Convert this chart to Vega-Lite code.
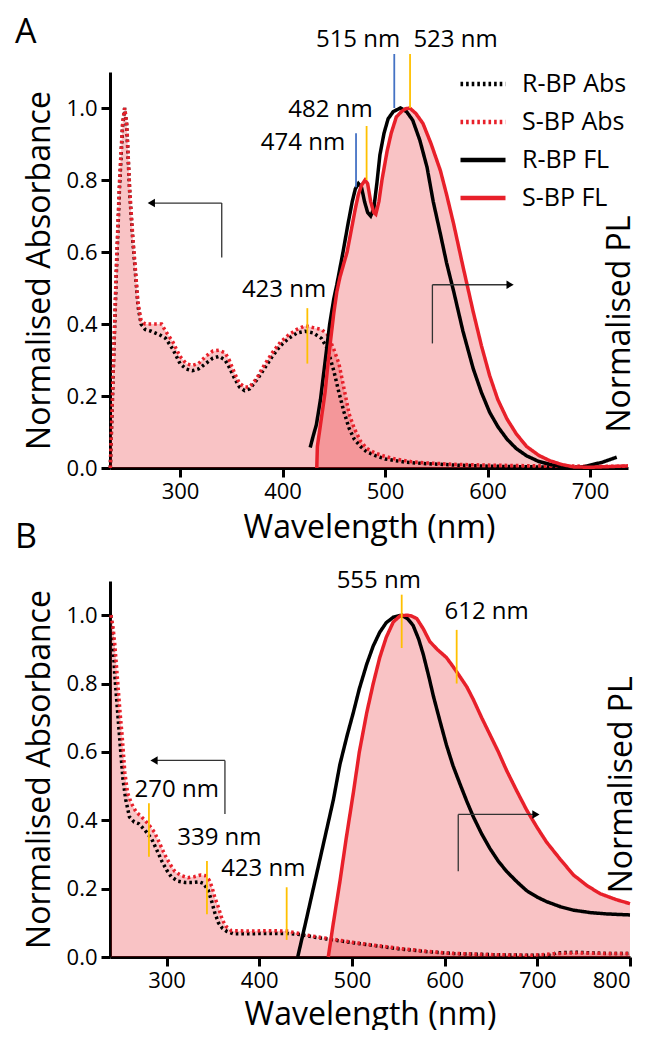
{
  "$schema": "https://vega.github.io/schema/vega-lite/v6.json",
  "padding": {"left": 15, "top": 16, "right": 12, "bottom": 0},
  "spacing": -23,
  "config": {
    "view": {"stroke": null},
    "font": "Open Sans",
    "axis": {"domainColor": "#000", "domainWidth": 3, "tickColor": "#000", "tickWidth": 3, "tickSize": 9, "labelFont": "Open Sans", "labelFontSize": 22, "labelColor": "#000", "titleFont": "Open Sans", "titleFontSize": 32, "titleFontWeight": "normal", "titleColor": "#000", "grid": false, "labelPadding": 4, "titlePadding": 10},
    "text": {"font": "Open Sans", "fontSize": 24, "color": "#000"},
    "title": {"font": "Open Sans", "fontSize": 34, "fontWeight": "normal", "color": "#000", "anchor": "start", "frame": "group"}
  },
  "resolve": {"scale": {"x": "independent", "y": "independent", "color": "independent", "strokeDash": "independent", "shape": "independent"}, "legend": {"color": "independent", "strokeDash": "independent", "shape": "independent"}},
  "datasets": {
    "spec": [
      {"panel": "A", "series": "R-BP Abs", "wl": 232, "v": 0},
      {"panel": "A", "series": "R-BP Abs", "wl": 235, "v": 0.28},
      {"panel": "A", "series": "R-BP Abs", "wl": 238, "v": 0.55},
      {"panel": "A", "series": "R-BP Abs", "wl": 241, "v": 0.78},
      {"panel": "A", "series": "R-BP Abs", "wl": 244, "v": 0.95},
      {"panel": "A", "series": "R-BP Abs", "wl": 246, "v": 1.0},
      {"panel": "A", "series": "R-BP Abs", "wl": 248, "v": 0.95},
      {"panel": "A", "series": "R-BP Abs", "wl": 251, "v": 0.76},
      {"panel": "A", "series": "R-BP Abs", "wl": 254, "v": 0.63},
      {"panel": "A", "series": "R-BP Abs", "wl": 256, "v": 0.56},
      {"panel": "A", "series": "R-BP Abs", "wl": 259, "v": 0.45},
      {"panel": "A", "series": "R-BP Abs", "wl": 262, "v": 0.4},
      {"panel": "A", "series": "R-BP Abs", "wl": 266, "v": 0.385},
      {"panel": "A", "series": "R-BP Abs", "wl": 272, "v": 0.38},
      {"panel": "A", "series": "R-BP Abs", "wl": 280, "v": 0.37},
      {"panel": "A", "series": "R-BP Abs", "wl": 286, "v": 0.36},
      {"panel": "A", "series": "R-BP Abs", "wl": 293, "v": 0.33},
      {"panel": "A", "series": "R-BP Abs", "wl": 300, "v": 0.29},
      {"panel": "A", "series": "R-BP Abs", "wl": 306, "v": 0.275},
      {"panel": "A", "series": "R-BP Abs", "wl": 312, "v": 0.27},
      {"panel": "A", "series": "R-BP Abs", "wl": 318, "v": 0.275},
      {"panel": "A", "series": "R-BP Abs", "wl": 325, "v": 0.29},
      {"panel": "A", "series": "R-BP Abs", "wl": 332, "v": 0.305},
      {"panel": "A", "series": "R-BP Abs", "wl": 338, "v": 0.31},
      {"panel": "A", "series": "R-BP Abs", "wl": 344, "v": 0.3},
      {"panel": "A", "series": "R-BP Abs", "wl": 348, "v": 0.28},
      {"panel": "A", "series": "R-BP Abs", "wl": 353, "v": 0.25},
      {"panel": "A", "series": "R-BP Abs", "wl": 358, "v": 0.225},
      {"panel": "A", "series": "R-BP Abs", "wl": 363, "v": 0.215},
      {"panel": "A", "series": "R-BP Abs", "wl": 368, "v": 0.22},
      {"panel": "A", "series": "R-BP Abs", "wl": 375, "v": 0.245},
      {"panel": "A", "series": "R-BP Abs", "wl": 382, "v": 0.275},
      {"panel": "A", "series": "R-BP Abs", "wl": 390, "v": 0.31},
      {"panel": "A", "series": "R-BP Abs", "wl": 398, "v": 0.34},
      {"panel": "A", "series": "R-BP Abs", "wl": 406, "v": 0.36},
      {"panel": "A", "series": "R-BP Abs", "wl": 414, "v": 0.375},
      {"panel": "A", "series": "R-BP Abs", "wl": 422, "v": 0.38},
      {"panel": "A", "series": "R-BP Abs", "wl": 430, "v": 0.375},
      {"panel": "A", "series": "R-BP Abs", "wl": 438, "v": 0.36},
      {"panel": "A", "series": "R-BP Abs", "wl": 444, "v": 0.33},
      {"panel": "A", "series": "R-BP Abs", "wl": 450, "v": 0.27},
      {"panel": "A", "series": "R-BP Abs", "wl": 455, "v": 0.21},
      {"panel": "A", "series": "R-BP Abs", "wl": 460, "v": 0.155},
      {"panel": "A", "series": "R-BP Abs", "wl": 465, "v": 0.11},
      {"panel": "A", "series": "R-BP Abs", "wl": 470, "v": 0.08},
      {"panel": "A", "series": "R-BP Abs", "wl": 476, "v": 0.06},
      {"panel": "A", "series": "R-BP Abs", "wl": 482, "v": 0.045},
      {"panel": "A", "series": "R-BP Abs", "wl": 490, "v": 0.035},
      {"panel": "A", "series": "R-BP Abs", "wl": 500, "v": 0.025},
      {"panel": "A", "series": "R-BP Abs", "wl": 520, "v": 0.016},
      {"panel": "A", "series": "R-BP Abs", "wl": 540, "v": 0.012},
      {"panel": "A", "series": "R-BP Abs", "wl": 570, "v": 0.008},
      {"panel": "A", "series": "R-BP Abs", "wl": 600, "v": 0.005},
      {"panel": "A", "series": "R-BP Abs", "wl": 650, "v": 0.003},
      {"panel": "A", "series": "R-BP Abs", "wl": 700, "v": 0.003},
      {"panel": "A", "series": "R-BP Abs", "wl": 737, "v": 0.003},

      {"panel": "A", "series": "S-BP Abs", "wl": 232, "v": 0},
      {"panel": "A", "series": "S-BP Abs", "wl": 235, "v": 0.29},
      {"panel": "A", "series": "S-BP Abs", "wl": 238, "v": 0.57},
      {"panel": "A", "series": "S-BP Abs", "wl": 241, "v": 0.8},
      {"panel": "A", "series": "S-BP Abs", "wl": 244, "v": 0.96},
      {"panel": "A", "series": "S-BP Abs", "wl": 246, "v": 1.0},
      {"panel": "A", "series": "S-BP Abs", "wl": 248, "v": 0.96},
      {"panel": "A", "series": "S-BP Abs", "wl": 251, "v": 0.77},
      {"panel": "A", "series": "S-BP Abs", "wl": 254, "v": 0.64},
      {"panel": "A", "series": "S-BP Abs", "wl": 256, "v": 0.57},
      {"panel": "A", "series": "S-BP Abs", "wl": 259, "v": 0.46},
      {"panel": "A", "series": "S-BP Abs", "wl": 262, "v": 0.41},
      {"panel": "A", "series": "S-BP Abs", "wl": 266, "v": 0.4},
      {"panel": "A", "series": "S-BP Abs", "wl": 272, "v": 0.4},
      {"panel": "A", "series": "S-BP Abs", "wl": 278, "v": 0.4},
      {"panel": "A", "series": "S-BP Abs", "wl": 282, "v": 0.4},
      {"panel": "A", "series": "S-BP Abs", "wl": 286, "v": 0.38},
      {"panel": "A", "series": "S-BP Abs", "wl": 293, "v": 0.35},
      {"panel": "A", "series": "S-BP Abs", "wl": 300, "v": 0.31},
      {"panel": "A", "series": "S-BP Abs", "wl": 306, "v": 0.29},
      {"panel": "A", "series": "S-BP Abs", "wl": 312, "v": 0.285},
      {"panel": "A", "series": "S-BP Abs", "wl": 318, "v": 0.29},
      {"panel": "A", "series": "S-BP Abs", "wl": 325, "v": 0.31},
      {"panel": "A", "series": "S-BP Abs", "wl": 332, "v": 0.325},
      {"panel": "A", "series": "S-BP Abs", "wl": 338, "v": 0.327},
      {"panel": "A", "series": "S-BP Abs", "wl": 344, "v": 0.32},
      {"panel": "A", "series": "S-BP Abs", "wl": 348, "v": 0.3},
      {"panel": "A", "series": "S-BP Abs", "wl": 353, "v": 0.265},
      {"panel": "A", "series": "S-BP Abs", "wl": 358, "v": 0.235},
      {"panel": "A", "series": "S-BP Abs", "wl": 363, "v": 0.225},
      {"panel": "A", "series": "S-BP Abs", "wl": 368, "v": 0.225},
      {"panel": "A", "series": "S-BP Abs", "wl": 375, "v": 0.25},
      {"panel": "A", "series": "S-BP Abs", "wl": 382, "v": 0.285},
      {"panel": "A", "series": "S-BP Abs", "wl": 390, "v": 0.32},
      {"panel": "A", "series": "S-BP Abs", "wl": 398, "v": 0.35},
      {"panel": "A", "series": "S-BP Abs", "wl": 406, "v": 0.37},
      {"panel": "A", "series": "S-BP Abs", "wl": 414, "v": 0.385},
      {"panel": "A", "series": "S-BP Abs", "wl": 422, "v": 0.395},
      {"panel": "A", "series": "S-BP Abs", "wl": 430, "v": 0.39},
      {"panel": "A", "series": "S-BP Abs", "wl": 438, "v": 0.385},
      {"panel": "A", "series": "S-BP Abs", "wl": 444, "v": 0.37},
      {"panel": "A", "series": "S-BP Abs", "wl": 450, "v": 0.33},
      {"panel": "A", "series": "S-BP Abs", "wl": 455, "v": 0.29},
      {"panel": "A", "series": "S-BP Abs", "wl": 460, "v": 0.22},
      {"panel": "A", "series": "S-BP Abs", "wl": 465, "v": 0.15},
      {"panel": "A", "series": "S-BP Abs", "wl": 470, "v": 0.11},
      {"panel": "A", "series": "S-BP Abs", "wl": 476, "v": 0.075},
      {"panel": "A", "series": "S-BP Abs", "wl": 482, "v": 0.055},
      {"panel": "A", "series": "S-BP Abs", "wl": 490, "v": 0.042},
      {"panel": "A", "series": "S-BP Abs", "wl": 498, "v": 0.034},
      {"panel": "A", "series": "S-BP Abs", "wl": 510, "v": 0.025},
      {"panel": "A", "series": "S-BP Abs", "wl": 525, "v": 0.018},
      {"panel": "A", "series": "S-BP Abs", "wl": 540, "v": 0.014},
      {"panel": "A", "series": "S-BP Abs", "wl": 570, "v": 0.01},
      {"panel": "A", "series": "S-BP Abs", "wl": 600, "v": 0.008},
      {"panel": "A", "series": "S-BP Abs", "wl": 650, "v": 0.006},
      {"panel": "A", "series": "S-BP Abs", "wl": 700, "v": 0.005},
      {"panel": "A", "series": "S-BP Abs", "wl": 737, "v": 0.005},

      {"panel": "A", "series": "R-BP FL", "wl": 427, "v": 0.057},
      {"panel": "A", "series": "R-BP FL", "wl": 430, "v": 0.09},
      {"panel": "A", "series": "R-BP FL", "wl": 433, "v": 0.12},
      {"panel": "A", "series": "R-BP FL", "wl": 437, "v": 0.19},
      {"panel": "A", "series": "R-BP FL", "wl": 440, "v": 0.26},
      {"panel": "A", "series": "R-BP FL", "wl": 443, "v": 0.33},
      {"panel": "A", "series": "R-BP FL", "wl": 446, "v": 0.4},
      {"panel": "A", "series": "R-BP FL", "wl": 450, "v": 0.47},
      {"panel": "A", "series": "R-BP FL", "wl": 453, "v": 0.51},
      {"panel": "A", "series": "R-BP FL", "wl": 459, "v": 0.6},
      {"panel": "A", "series": "R-BP FL", "wl": 464, "v": 0.68},
      {"panel": "A", "series": "R-BP FL", "wl": 468, "v": 0.74},
      {"panel": "A", "series": "R-BP FL", "wl": 471, "v": 0.775},
      {"panel": "A", "series": "R-BP FL", "wl": 474, "v": 0.79},
      {"panel": "A", "series": "R-BP FL", "wl": 477, "v": 0.78},
      {"panel": "A", "series": "R-BP FL", "wl": 480, "v": 0.74},
      {"panel": "A", "series": "R-BP FL", "wl": 483, "v": 0.71},
      {"panel": "A", "series": "R-BP FL", "wl": 486, "v": 0.7},
      {"panel": "A", "series": "R-BP FL", "wl": 489, "v": 0.72},
      {"panel": "A", "series": "R-BP FL", "wl": 492, "v": 0.79},
      {"panel": "A", "series": "R-BP FL", "wl": 495, "v": 0.87},
      {"panel": "A", "series": "R-BP FL", "wl": 499, "v": 0.93},
      {"panel": "A", "series": "R-BP FL", "wl": 503, "v": 0.97},
      {"panel": "A", "series": "R-BP FL", "wl": 508, "v": 0.99},
      {"panel": "A", "series": "R-BP FL", "wl": 515, "v": 1.0},
      {"panel": "A", "series": "R-BP FL", "wl": 521, "v": 0.99},
      {"panel": "A", "series": "R-BP FL", "wl": 527, "v": 0.966},
      {"panel": "A", "series": "R-BP FL", "wl": 534, "v": 0.91},
      {"panel": "A", "series": "R-BP FL", "wl": 541, "v": 0.835},
      {"panel": "A", "series": "R-BP FL", "wl": 547, "v": 0.74},
      {"panel": "A", "series": "R-BP FL", "wl": 554, "v": 0.65},
      {"panel": "A", "series": "R-BP FL", "wl": 560, "v": 0.57},
      {"panel": "A", "series": "R-BP FL", "wl": 567, "v": 0.49},
      {"panel": "A", "series": "R-BP FL", "wl": 576, "v": 0.38},
      {"panel": "A", "series": "R-BP FL", "wl": 586, "v": 0.276},
      {"panel": "A", "series": "R-BP FL", "wl": 594, "v": 0.21},
      {"panel": "A", "series": "R-BP FL", "wl": 602, "v": 0.155},
      {"panel": "A", "series": "R-BP FL", "wl": 610, "v": 0.115},
      {"panel": "A", "series": "R-BP FL", "wl": 619, "v": 0.08},
      {"panel": "A", "series": "R-BP FL", "wl": 628, "v": 0.054},
      {"panel": "A", "series": "R-BP FL", "wl": 638, "v": 0.034},
      {"panel": "A", "series": "R-BP FL", "wl": 650, "v": 0.018},
      {"panel": "A", "series": "R-BP FL", "wl": 661, "v": 0.01},
      {"panel": "A", "series": "R-BP FL", "wl": 672, "v": 0.004},
      {"panel": "A", "series": "R-BP FL", "wl": 684, "v": 0.0},
      {"panel": "A", "series": "R-BP FL", "wl": 695, "v": 0.004},
      {"panel": "A", "series": "R-BP FL", "wl": 703, "v": 0.01},
      {"panel": "A", "series": "R-BP FL", "wl": 712, "v": 0.016},
      {"panel": "A", "series": "R-BP FL", "wl": 720, "v": 0.024},
      {"panel": "A", "series": "R-BP FL", "wl": 726, "v": 0.03},

      {"panel": "A", "series": "S-BP FL", "wl": 433.4, "v": 0},
      {"panel": "A", "series": "S-BP FL", "wl": 434, "v": 0.06},
      {"panel": "A", "series": "S-BP FL", "wl": 436, "v": 0.1},
      {"panel": "A", "series": "S-BP FL", "wl": 439, "v": 0.16},
      {"panel": "A", "series": "S-BP FL", "wl": 441.5, "v": 0.21},
      {"panel": "A", "series": "S-BP FL", "wl": 444, "v": 0.28},
      {"panel": "A", "series": "S-BP FL", "wl": 446.3, "v": 0.34},
      {"panel": "A", "series": "S-BP FL", "wl": 450, "v": 0.43},
      {"panel": "A", "series": "S-BP FL", "wl": 453, "v": 0.49},
      {"panel": "A", "series": "S-BP FL", "wl": 456, "v": 0.53},
      {"panel": "A", "series": "S-BP FL", "wl": 459, "v": 0.56},
      {"panel": "A", "series": "S-BP FL", "wl": 463, "v": 0.6},
      {"panel": "A", "series": "S-BP FL", "wl": 467, "v": 0.66},
      {"panel": "A", "series": "S-BP FL", "wl": 471, "v": 0.72},
      {"panel": "A", "series": "S-BP FL", "wl": 474, "v": 0.76},
      {"panel": "A", "series": "S-BP FL", "wl": 477, "v": 0.785},
      {"panel": "A", "series": "S-BP FL", "wl": 480.5, "v": 0.8},
      {"panel": "A", "series": "S-BP FL", "wl": 483, "v": 0.79},
      {"panel": "A", "series": "S-BP FL", "wl": 486, "v": 0.74},
      {"panel": "A", "series": "S-BP FL", "wl": 489, "v": 0.71},
      {"panel": "A", "series": "S-BP FL", "wl": 491, "v": 0.705},
      {"panel": "A", "series": "S-BP FL", "wl": 494, "v": 0.74},
      {"panel": "A", "series": "S-BP FL", "wl": 497, "v": 0.8},
      {"panel": "A", "series": "S-BP FL", "wl": 502, "v": 0.88},
      {"panel": "A", "series": "S-BP FL", "wl": 506, "v": 0.93},
      {"panel": "A", "series": "S-BP FL", "wl": 511, "v": 0.975},
      {"panel": "A", "series": "S-BP FL", "wl": 516, "v": 0.99},
      {"panel": "A", "series": "S-BP FL", "wl": 520, "v": 0.998},
      {"panel": "A", "series": "S-BP FL", "wl": 524, "v": 1.0},
      {"panel": "A", "series": "S-BP FL", "wl": 530, "v": 0.985},
      {"panel": "A", "series": "S-BP FL", "wl": 537, "v": 0.957},
      {"panel": "A", "series": "S-BP FL", "wl": 545, "v": 0.9},
      {"panel": "A", "series": "S-BP FL", "wl": 554, "v": 0.826},
      {"panel": "A", "series": "S-BP FL", "wl": 560, "v": 0.76},
      {"panel": "A", "series": "S-BP FL", "wl": 567, "v": 0.677},
      {"panel": "A", "series": "S-BP FL", "wl": 576, "v": 0.56},
      {"panel": "A", "series": "S-BP FL", "wl": 586, "v": 0.434},
      {"panel": "A", "series": "S-BP FL", "wl": 594, "v": 0.34},
      {"panel": "A", "series": "S-BP FL", "wl": 602, "v": 0.257},
      {"panel": "A", "series": "S-BP FL", "wl": 610, "v": 0.19},
      {"panel": "A", "series": "S-BP FL", "wl": 619, "v": 0.136},
      {"panel": "A", "series": "S-BP FL", "wl": 628, "v": 0.095},
      {"panel": "A", "series": "S-BP FL", "wl": 638, "v": 0.06},
      {"panel": "A", "series": "S-BP FL", "wl": 650, "v": 0.035},
      {"panel": "A", "series": "S-BP FL", "wl": 661, "v": 0.02},
      {"panel": "A", "series": "S-BP FL", "wl": 672, "v": 0.01},
      {"panel": "A", "series": "S-BP FL", "wl": 684, "v": 0.003},
      {"panel": "A", "series": "S-BP FL", "wl": 700, "v": 0.002},
      {"panel": "A", "series": "S-BP FL", "wl": 720, "v": 0.004},
      {"panel": "A", "series": "S-BP FL", "wl": 737, "v": 0.006},

      {"panel": "B", "series": "R-BP Abs", "wl": 240, "v": 1.0},
      {"panel": "B", "series": "R-BP Abs", "wl": 242, "v": 0.93},
      {"panel": "B", "series": "R-BP Abs", "wl": 244, "v": 0.83},
      {"panel": "B", "series": "R-BP Abs", "wl": 246, "v": 0.76},
      {"panel": "B", "series": "R-BP Abs", "wl": 248, "v": 0.69},
      {"panel": "B", "series": "R-BP Abs", "wl": 250, "v": 0.62},
      {"panel": "B", "series": "R-BP Abs", "wl": 253, "v": 0.52},
      {"panel": "B", "series": "R-BP Abs", "wl": 256, "v": 0.46},
      {"panel": "B", "series": "R-BP Abs", "wl": 260, "v": 0.41},
      {"panel": "B", "series": "R-BP Abs", "wl": 265, "v": 0.395},
      {"panel": "B", "series": "R-BP Abs", "wl": 270, "v": 0.39},
      {"panel": "B", "series": "R-BP Abs", "wl": 277, "v": 0.37},
      {"panel": "B", "series": "R-BP Abs", "wl": 284, "v": 0.345},
      {"panel": "B", "series": "R-BP Abs", "wl": 290, "v": 0.31},
      {"panel": "B", "series": "R-BP Abs", "wl": 295, "v": 0.28},
      {"panel": "B", "series": "R-BP Abs", "wl": 300, "v": 0.255},
      {"panel": "B", "series": "R-BP Abs", "wl": 305, "v": 0.235},
      {"panel": "B", "series": "R-BP Abs", "wl": 312, "v": 0.222},
      {"panel": "B", "series": "R-BP Abs", "wl": 320, "v": 0.218},
      {"panel": "B", "series": "R-BP Abs", "wl": 328, "v": 0.218},
      {"panel": "B", "series": "R-BP Abs", "wl": 335, "v": 0.22},
      {"panel": "B", "series": "R-BP Abs", "wl": 340, "v": 0.215},
      {"panel": "B", "series": "R-BP Abs", "wl": 345, "v": 0.195},
      {"panel": "B", "series": "R-BP Abs", "wl": 349, "v": 0.16},
      {"panel": "B", "series": "R-BP Abs", "wl": 352, "v": 0.13},
      {"panel": "B", "series": "R-BP Abs", "wl": 356, "v": 0.1},
      {"panel": "B", "series": "R-BP Abs", "wl": 360, "v": 0.085},
      {"panel": "B", "series": "R-BP Abs", "wl": 365, "v": 0.075},
      {"panel": "B", "series": "R-BP Abs", "wl": 372, "v": 0.068},
      {"panel": "B", "series": "R-BP Abs", "wl": 390, "v": 0.068},
      {"panel": "B", "series": "R-BP Abs", "wl": 410, "v": 0.069},
      {"panel": "B", "series": "R-BP Abs", "wl": 430, "v": 0.069},
      {"panel": "B", "series": "R-BP Abs", "wl": 444, "v": 0.066},
      {"panel": "B", "series": "R-BP Abs", "wl": 460, "v": 0.058},
      {"panel": "B", "series": "R-BP Abs", "wl": 480, "v": 0.05},
      {"panel": "B", "series": "R-BP Abs", "wl": 500, "v": 0.042},
      {"panel": "B", "series": "R-BP Abs", "wl": 520, "v": 0.035},
      {"panel": "B", "series": "R-BP Abs", "wl": 550, "v": 0.024},
      {"panel": "B", "series": "R-BP Abs", "wl": 580, "v": 0.016},
      {"panel": "B", "series": "R-BP Abs", "wl": 610, "v": 0.01},
      {"panel": "B", "series": "R-BP Abs", "wl": 650, "v": 0.007},
      {"panel": "B", "series": "R-BP Abs", "wl": 690, "v": 0.005},
      {"panel": "B", "series": "R-BP Abs", "wl": 715, "v": 0.005},
      {"panel": "B", "series": "R-BP Abs", "wl": 720, "v": 0.012},
      {"panel": "B", "series": "R-BP Abs", "wl": 740, "v": 0.014},
      {"panel": "B", "series": "R-BP Abs", "wl": 760, "v": 0.012},
      {"panel": "B", "series": "R-BP Abs", "wl": 780, "v": 0.01},
      {"panel": "B", "series": "R-BP Abs", "wl": 800, "v": 0.01},

      {"panel": "B", "series": "S-BP Abs", "wl": 240, "v": 1.0},
      {"panel": "B", "series": "S-BP Abs", "wl": 242, "v": 0.97},
      {"panel": "B", "series": "S-BP Abs", "wl": 244, "v": 0.92},
      {"panel": "B", "series": "S-BP Abs", "wl": 246, "v": 0.85},
      {"panel": "B", "series": "S-BP Abs", "wl": 248, "v": 0.78},
      {"panel": "B", "series": "S-BP Abs", "wl": 250, "v": 0.71},
      {"panel": "B", "series": "S-BP Abs", "wl": 252, "v": 0.65},
      {"panel": "B", "series": "S-BP Abs", "wl": 255, "v": 0.54},
      {"panel": "B", "series": "S-BP Abs", "wl": 258, "v": 0.48},
      {"panel": "B", "series": "S-BP Abs", "wl": 262, "v": 0.45},
      {"panel": "B", "series": "S-BP Abs", "wl": 267, "v": 0.425},
      {"panel": "B", "series": "S-BP Abs", "wl": 273, "v": 0.41},
      {"panel": "B", "series": "S-BP Abs", "wl": 280, "v": 0.39},
      {"panel": "B", "series": "S-BP Abs", "wl": 287, "v": 0.365},
      {"panel": "B", "series": "S-BP Abs", "wl": 293, "v": 0.33},
      {"panel": "B", "series": "S-BP Abs", "wl": 298, "v": 0.3},
      {"panel": "B", "series": "S-BP Abs", "wl": 303, "v": 0.275},
      {"panel": "B", "series": "S-BP Abs", "wl": 309, "v": 0.25},
      {"panel": "B", "series": "S-BP Abs", "wl": 316, "v": 0.238},
      {"panel": "B", "series": "S-BP Abs", "wl": 323, "v": 0.232},
      {"panel": "B", "series": "S-BP Abs", "wl": 330, "v": 0.235},
      {"panel": "B", "series": "S-BP Abs", "wl": 337, "v": 0.24},
      {"panel": "B", "series": "S-BP Abs", "wl": 342, "v": 0.238},
      {"panel": "B", "series": "S-BP Abs", "wl": 346, "v": 0.225},
      {"panel": "B", "series": "S-BP Abs", "wl": 349, "v": 0.205},
      {"panel": "B", "series": "S-BP Abs", "wl": 352, "v": 0.175},
      {"panel": "B", "series": "S-BP Abs", "wl": 356, "v": 0.145},
      {"panel": "B", "series": "S-BP Abs", "wl": 360, "v": 0.11},
      {"panel": "B", "series": "S-BP Abs", "wl": 364, "v": 0.09},
      {"panel": "B", "series": "S-BP Abs", "wl": 370, "v": 0.077},
      {"panel": "B", "series": "S-BP Abs", "wl": 390, "v": 0.076},
      {"panel": "B", "series": "S-BP Abs", "wl": 410, "v": 0.077},
      {"panel": "B", "series": "S-BP Abs", "wl": 430, "v": 0.076},
      {"panel": "B", "series": "S-BP Abs", "wl": 444, "v": 0.068},
      {"panel": "B", "series": "S-BP Abs", "wl": 460, "v": 0.06},
      {"panel": "B", "series": "S-BP Abs", "wl": 480, "v": 0.052},
      {"panel": "B", "series": "S-BP Abs", "wl": 498, "v": 0.044},
      {"panel": "B", "series": "S-BP Abs", "wl": 520, "v": 0.036},
      {"panel": "B", "series": "S-BP Abs", "wl": 552, "v": 0.025},
      {"panel": "B", "series": "S-BP Abs", "wl": 580, "v": 0.017},
      {"panel": "B", "series": "S-BP Abs", "wl": 606, "v": 0.011},
      {"panel": "B", "series": "S-BP Abs", "wl": 650, "v": 0.007},
      {"panel": "B", "series": "S-BP Abs", "wl": 695, "v": 0.005},
      {"panel": "B", "series": "S-BP Abs", "wl": 720, "v": 0.01},
      {"panel": "B", "series": "S-BP Abs", "wl": 740, "v": 0.012},
      {"panel": "B", "series": "S-BP Abs", "wl": 760, "v": 0.011},
      {"panel": "B", "series": "S-BP Abs", "wl": 780, "v": 0.01},
      {"panel": "B", "series": "S-BP Abs", "wl": 800, "v": 0.01},

      {"panel": "B", "series": "R-BP FL", "wl": 441.5, "v": 0},
      {"panel": "B", "series": "R-BP FL", "wl": 450, "v": 0.1},
      {"panel": "B", "series": "R-BP FL", "wl": 460, "v": 0.22},
      {"panel": "B", "series": "R-BP FL", "wl": 470, "v": 0.34},
      {"panel": "B", "series": "R-BP FL", "wl": 480, "v": 0.46},
      {"panel": "B", "series": "R-BP FL", "wl": 487, "v": 0.563},
      {"panel": "B", "series": "R-BP FL", "wl": 495, "v": 0.65},
      {"panel": "B", "series": "R-BP FL", "wl": 501.5, "v": 0.715},
      {"panel": "B", "series": "R-BP FL", "wl": 508, "v": 0.785},
      {"panel": "B", "series": "R-BP FL", "wl": 516, "v": 0.857},
      {"panel": "B", "series": "R-BP FL", "wl": 523, "v": 0.91},
      {"panel": "B", "series": "R-BP FL", "wl": 530, "v": 0.95},
      {"panel": "B", "series": "R-BP FL", "wl": 537, "v": 0.978},
      {"panel": "B", "series": "R-BP FL", "wl": 544.6, "v": 0.994},
      {"panel": "B", "series": "R-BP FL", "wl": 553.7, "v": 1.0},
      {"panel": "B", "series": "R-BP FL", "wl": 560, "v": 0.99},
      {"panel": "B", "series": "R-BP FL", "wl": 566, "v": 0.97},
      {"panel": "B", "series": "R-BP FL", "wl": 572, "v": 0.93},
      {"panel": "B", "series": "R-BP FL", "wl": 577, "v": 0.885},
      {"panel": "B", "series": "R-BP FL", "wl": 583, "v": 0.82},
      {"panel": "B", "series": "R-BP FL", "wl": 588, "v": 0.762},
      {"panel": "B", "series": "R-BP FL", "wl": 595, "v": 0.69},
      {"panel": "B", "series": "R-BP FL", "wl": 602, "v": 0.62},
      {"panel": "B", "series": "R-BP FL", "wl": 609, "v": 0.56},
      {"panel": "B", "series": "R-BP FL", "wl": 616.6, "v": 0.506},
      {"panel": "B", "series": "R-BP FL", "wl": 624, "v": 0.455},
      {"panel": "B", "series": "R-BP FL", "wl": 631, "v": 0.41},
      {"panel": "B", "series": "R-BP FL", "wl": 640, "v": 0.36},
      {"panel": "B", "series": "R-BP FL", "wl": 649, "v": 0.317},
      {"panel": "B", "series": "R-BP FL", "wl": 658, "v": 0.28},
      {"panel": "B", "series": "R-BP FL", "wl": 667, "v": 0.25},
      {"panel": "B", "series": "R-BP FL", "wl": 678, "v": 0.22},
      {"panel": "B", "series": "R-BP FL", "wl": 688.5, "v": 0.194},
      {"panel": "B", "series": "R-BP FL", "wl": 700, "v": 0.175},
      {"panel": "B", "series": "R-BP FL", "wl": 710, "v": 0.162},
      {"panel": "B", "series": "R-BP FL", "wl": 725, "v": 0.147},
      {"panel": "B", "series": "R-BP FL", "wl": 739, "v": 0.137},
      {"panel": "B", "series": "R-BP FL", "wl": 757, "v": 0.13},
      {"panel": "B", "series": "R-BP FL", "wl": 775, "v": 0.126},
      {"panel": "B", "series": "R-BP FL", "wl": 800, "v": 0.123},

      {"panel": "B", "series": "S-BP FL", "wl": 474.5, "v": 0},
      {"panel": "B", "series": "S-BP FL", "wl": 480, "v": 0.1},
      {"panel": "B", "series": "S-BP FL", "wl": 487, "v": 0.22},
      {"panel": "B", "series": "S-BP FL", "wl": 494, "v": 0.35},
      {"panel": "B", "series": "S-BP FL", "wl": 501.5, "v": 0.48},
      {"panel": "B", "series": "S-BP FL", "wl": 508, "v": 0.6},
      {"panel": "B", "series": "S-BP FL", "wl": 516, "v": 0.715},
      {"panel": "B", "series": "S-BP FL", "wl": 523, "v": 0.8},
      {"panel": "B", "series": "S-BP FL", "wl": 530, "v": 0.876},
      {"panel": "B", "series": "S-BP FL", "wl": 537, "v": 0.935},
      {"panel": "B", "series": "S-BP FL", "wl": 544.6, "v": 0.98},
      {"panel": "B", "series": "S-BP FL", "wl": 552, "v": 0.998},
      {"panel": "B", "series": "S-BP FL", "wl": 559, "v": 1.0},
      {"panel": "B", "series": "S-BP FL", "wl": 564, "v": 0.998},
      {"panel": "B", "series": "S-BP FL", "wl": 570, "v": 0.99},
      {"panel": "B", "series": "S-BP FL", "wl": 577, "v": 0.96},
      {"panel": "B", "series": "S-BP FL", "wl": 584, "v": 0.923},
      {"panel": "B", "series": "S-BP FL", "wl": 592, "v": 0.9},
      {"panel": "B", "series": "S-BP FL", "wl": 602, "v": 0.876},
      {"panel": "B", "series": "S-BP FL", "wl": 609, "v": 0.85},
      {"panel": "B", "series": "S-BP FL", "wl": 616.6, "v": 0.82},
      {"panel": "B", "series": "S-BP FL", "wl": 624, "v": 0.79},
      {"panel": "B", "series": "S-BP FL", "wl": 631, "v": 0.753},
      {"panel": "B", "series": "S-BP FL", "wl": 640, "v": 0.7},
      {"panel": "B", "series": "S-BP FL", "wl": 649, "v": 0.65},
      {"panel": "B", "series": "S-BP FL", "wl": 658, "v": 0.6},
      {"panel": "B", "series": "S-BP FL", "wl": 667, "v": 0.545},
      {"panel": "B", "series": "S-BP FL", "wl": 678, "v": 0.485},
      {"panel": "B", "series": "S-BP FL", "wl": 688.5, "v": 0.43},
      {"panel": "B", "series": "S-BP FL", "wl": 700, "v": 0.378},
      {"panel": "B", "series": "S-BP FL", "wl": 710, "v": 0.336},
      {"panel": "B", "series": "S-BP FL", "wl": 725, "v": 0.285},
      {"panel": "B", "series": "S-BP FL", "wl": 739, "v": 0.24},
      {"panel": "B", "series": "S-BP FL", "wl": 754, "v": 0.208},
      {"panel": "B", "series": "S-BP FL", "wl": 768, "v": 0.185},
      {"panel": "B", "series": "S-BP FL", "wl": 785, "v": 0.168},
      {"panel": "B", "series": "S-BP FL", "wl": 800, "v": 0.156}
    ],
    "rules": [
      {"panel": "A", "iso": "R", "wl": 509, "y1": 1.0, "y2": 1.15},
      {"panel": "A", "iso": "S", "wl": 524.4, "y1": 1.0, "y2": 1.15},
      {"panel": "A", "iso": "S", "wl": 482, "y1": 0.8, "y2": 0.95},
      {"panel": "A", "iso": "R", "wl": 471.7, "y1": 0.78, "y2": 0.93},
      {"panel": "A", "iso": "S", "wl": 424.2, "y1": 0.29, "y2": 0.444},
      {"panel": "B", "iso": "S", "wl": 553.7, "y1": 0.904, "y2": 1.06},
      {"panel": "B", "iso": "S", "wl": 613, "y1": 0.8, "y2": 0.957},
      {"panel": "B", "iso": "S", "wl": 281, "y1": 0.293, "y2": 0.45},
      {"panel": "B", "iso": "S", "wl": 343.6, "y1": 0.125, "y2": 0.281},
      {"panel": "B", "iso": "S", "wl": 429.6, "y1": 0.05, "y2": 0.204}
    ],
    "labels": [
      {"panel": "A", "text": "515 nm", "wl": 473.7, "v": 1.169},
      {"panel": "A", "text": "523 nm", "wl": 568.8, "v": 1.169},
      {"panel": "A", "text": "482 nm", "wl": 446.8, "v": 0.976},
      {"panel": "A", "text": "474 nm", "wl": 420, "v": 0.884},
      {"panel": "A", "text": "423 nm", "wl": 401.5, "v": 0.476},
      {"panel": "B", "text": "555 nm", "wl": 529, "v": 1.08},
      {"panel": "B", "text": "612 nm", "wl": 645.3, "v": 0.988},
      {"panel": "B", "text": "270 nm", "wl": 311, "v": 0.469},
      {"panel": "B", "text": "339 nm", "wl": 357, "v": 0.327},
      {"panel": "B", "text": "423 nm", "wl": 404.4, "v": 0.237}
    ],
    "arrows": [
      {"panel": "A", "x1": 340.7, "x2": 270, "y1": 0.736, "y2": 0.736},
      {"panel": "A", "x1": 340.7, "x2": 340.7, "y1": 0.736, "y2": 0.585},
      {"panel": "A", "x1": 546.2, "x2": 620, "y1": 0.509, "y2": 0.509},
      {"panel": "A", "x1": 546.2, "x2": 546.2, "y1": 0.509, "y2": 0.346},
      {"panel": "B", "x1": 363, "x2": 285, "y1": 0.575, "y2": 0.575},
      {"panel": "B", "x1": 363, "x2": 363, "y1": 0.575, "y2": 0.418},
      {"panel": "B", "x1": 614.7, "x2": 698, "y1": 0.417, "y2": 0.417},
      {"panel": "B", "x1": 614.7, "x2": 614.7, "y1": 0.417, "y2": 0.251}
    ],
    "heads": [
      {"panel": "A", "dir": "left", "wl": 272, "v": 0.736},
      {"panel": "A", "dir": "right", "wl": 622, "v": 0.509},
      {"panel": "B", "dir": "left", "wl": 286.5, "v": 0.575},
      {"panel": "B", "dir": "right", "wl": 698.5, "v": 0.417}
    ],
    "pl": [
      {"panel": "A", "text": "Normalised PL", "wl": 729.3, "v": 0.4},
      {"panel": "B", "text": "Normalised PL", "wl": 791.9, "v": 0.504}
    ]
  },
  "vconcat": [
    {
      "width": 518, "height": 396,
      "title": {"text": "A", "dx": -95, "offset": -22},
      "layer": [
        {
          "data": {"name": "spec"},
          "transform": [{"filter": "datum.panel === 'A' && (datum.series === 'S-BP Abs' || datum.series === 'S-BP FL')"}],
          "mark": {"type": "area", "color": "#e8202a", "opacity": 0.27},
          "encoding": {
            "x": {"field": "wl", "type": "quantitative", "title": "Wavelength (nm)", "scale": {"domain": [231.7, 737], "nice": false, "zero": false}, "axis": {"values": [300, 400, 500, 600, 700]}},
            "y": {"field": "v", "type": "quantitative", "title": "Normalised Absorbance", "stack": null, "scale": {"domain": [0, 1.1], "nice": false}, "axis": {"values": [0, 0.2, 0.4, 0.6, 0.8, 1.0], "format": ".1f"}},
            "detail": {"field": "series"}
          }
        },
        {
          "data": {"name": "spec"},
          "transform": [{"filter": "datum.panel === 'A'"}],
          "mark": {"type": "line", "strokeWidth": 3.5},
          "encoding": {
            "x": {"field": "wl", "type": "quantitative", "title": "Wavelength (nm)"},
            "y": {"field": "v", "type": "quantitative", "title": "Normalised Absorbance"},
            "color": {"field": "series", "type": "nominal", "scale": {"domain": ["R-BP Abs", "S-BP Abs", "R-BP FL", "S-BP FL"], "range": ["#000000", "#e8202a", "#000000", "#e8202a"]},
              "legend": {"orient": "none", "legendX": 348, "legendY": -13, "title": null, "symbolType": "stroke", "symbolSize": 2025, "symbolStrokeWidth": 4.5, "labelFontSize": 25, "labelFont": "Open Sans", "labelColor": "#000", "rowPadding": -6, "labelOffset": 14, "padding": 0}},
            "strokeDash": {"field": "series", "type": "nominal", "scale": {"domain": ["R-BP Abs", "S-BP Abs", "R-BP FL", "S-BP FL"], "range": [[2.6, 3], [2.6, 3], [1, 0], [1, 0]]},
              "legend": {"orient": "none", "legendX": 348, "legendY": -13, "title": null, "symbolType": "stroke", "symbolSize": 2025, "symbolStrokeWidth": 4.5, "labelFontSize": 25, "labelFont": "Open Sans", "labelColor": "#000", "rowPadding": -6, "labelOffset": 14, "padding": 0}}
          }
        },
        {
          "data": {"name": "rules"},
          "transform": [{"filter": "datum.panel === 'A' && datum.iso === 'R'"}],
          "mark": {"type": "rule", "color": "#4472c4", "strokeWidth": 1.8},
          "encoding": {
            "x": {"field": "wl", "type": "quantitative", "title": "Wavelength (nm)"},
            "y": {"field": "y1", "type": "quantitative", "title": "Normalised Absorbance"},
            "y2": {"field": "y2"}
          }
        },
        {
          "data": {"name": "rules"},
          "transform": [{"filter": "datum.panel === 'A' && datum.iso === 'S'"}],
          "mark": {"type": "rule", "color": "#ffc000", "strokeWidth": 1.8},
          "encoding": {
            "x": {"field": "wl", "type": "quantitative", "title": "Wavelength (nm)"},
            "y": {"field": "y1", "type": "quantitative", "title": "Normalised Absorbance"},
            "y2": {"field": "y2"}
          }
        },
        {
          "data": {"name": "labels"},
          "transform": [{"filter": "datum.panel === 'A'"}],
          "mark": {"type": "text", "align": "center", "baseline": "alphabetic", "fontSize": 24},
          "encoding": {
            "x": {"field": "wl", "type": "quantitative", "title": "Wavelength (nm)"},
            "y": {"field": "v", "type": "quantitative", "title": "Normalised Absorbance"},
            "text": {"field": "text"}
          }
        },
        {
          "data": {"name": "arrows"},
          "transform": [{"filter": "datum.panel === 'A'"}],
          "mark": {"type": "rule", "color": "#333333", "strokeWidth": 1.3},
          "encoding": {
            "x": {"field": "x1", "type": "quantitative", "title": "Wavelength (nm)"},
            "x2": {"field": "x2"},
            "y": {"field": "y1", "type": "quantitative", "title": "Normalised Absorbance"},
            "y2": {"field": "y2"}
          }
        },
        {
          "data": {"name": "heads"},
          "transform": [{"filter": "datum.panel === 'A'"}],
          "mark": {"type": "point", "filled": true, "color": "#000", "opacity": 1, "size": 70},
          "encoding": {
            "x": {"field": "wl", "type": "quantitative", "title": "Wavelength (nm)"},
            "y": {"field": "v", "type": "quantitative", "title": "Normalised Absorbance"},
            "shape": {"field": "dir", "type": "nominal", "scale": {"domain": ["left", "right"], "range": ["triangle-left", "triangle-right"]}, "legend": null}
          }
        },
        {
          "data": {"name": "pl"},
          "transform": [{"filter": "datum.panel === 'A'"}],
          "mark": {"type": "text", "angle": 270, "align": "center", "baseline": "middle", "fontSize": 32},
          "encoding": {
            "x": {"field": "wl", "type": "quantitative", "title": "Wavelength (nm)"},
            "y": {"field": "v", "type": "quantitative", "title": "Normalised Absorbance"},
            "text": {"field": "text"}
          }
        }
      ]
    },
    {
      "width": 520, "height": 376,
      "title": {"text": "B", "dx": -95, "offset": 14},
      "layer": [
        {
          "data": {"name": "spec"},
          "transform": [{"filter": "datum.panel === 'B' && (datum.series === 'S-BP Abs' || datum.series === 'S-BP FL')"}],
          "mark": {"type": "area", "color": "#e8202a", "opacity": 0.27},
          "encoding": {
            "x": {"field": "wl", "type": "quantitative", "title": "Wavelength (nm)", "scale": {"domain": [239, 800], "nice": false, "zero": false}, "axis": {"values": [300, 400, 500, 600, 700, 800], "titlePadding": 8}},
            "y": {"field": "v", "type": "quantitative", "title": "Normalised Absorbance", "stack": null, "scale": {"domain": [0, 1.1], "nice": false}, "axis": {"values": [0, 0.2, 0.4, 0.6, 0.8, 1.0], "format": ".1f"}},
            "detail": {"field": "series"}
          }
        },
        {
          "data": {"name": "spec"},
          "transform": [{"filter": "datum.panel === 'B'"}],
          "mark": {"type": "line", "strokeWidth": 3.5},
          "encoding": {
            "x": {"field": "wl", "type": "quantitative", "title": "Wavelength (nm)"},
            "y": {"field": "v", "type": "quantitative", "title": "Normalised Absorbance"},
            "color": {"field": "series", "type": "nominal", "scale": {"domain": ["R-BP Abs", "S-BP Abs", "R-BP FL", "S-BP FL"], "range": ["#000000", "#e8202a", "#000000", "#e8202a"]}, "legend": null},
            "strokeDash": {"field": "series", "type": "nominal", "scale": {"domain": ["R-BP Abs", "S-BP Abs", "R-BP FL", "S-BP FL"], "range": [[2.6, 3], [2.6, 3], [1, 0], [1, 0]]}, "legend": null}
          }
        },
        {
          "data": {"name": "rules"},
          "transform": [{"filter": "datum.panel === 'B'"}],
          "mark": {"type": "rule", "color": "#ffc000", "strokeWidth": 1.8},
          "encoding": {
            "x": {"field": "wl", "type": "quantitative", "title": "Wavelength (nm)"},
            "y": {"field": "y1", "type": "quantitative", "title": "Normalised Absorbance"},
            "y2": {"field": "y2"}
          }
        },
        {
          "data": {"name": "labels"},
          "transform": [{"filter": "datum.panel === 'B'"}],
          "mark": {"type": "text", "align": "center", "baseline": "alphabetic", "fontSize": 24},
          "encoding": {
            "x": {"field": "wl", "type": "quantitative", "title": "Wavelength (nm)"},
            "y": {"field": "v", "type": "quantitative", "title": "Normalised Absorbance"},
            "text": {"field": "text"}
          }
        },
        {
          "data": {"name": "arrows"},
          "transform": [{"filter": "datum.panel === 'B'"}],
          "mark": {"type": "rule", "color": "#333333", "strokeWidth": 1.3},
          "encoding": {
            "x": {"field": "x1", "type": "quantitative", "title": "Wavelength (nm)"},
            "x2": {"field": "x2"},
            "y": {"field": "y1", "type": "quantitative", "title": "Normalised Absorbance"},
            "y2": {"field": "y2"}
          }
        },
        {
          "data": {"name": "heads"},
          "transform": [{"filter": "datum.panel === 'B'"}],
          "mark": {"type": "point", "filled": true, "color": "#000", "opacity": 1, "size": 70},
          "encoding": {
            "x": {"field": "wl", "type": "quantitative", "title": "Wavelength (nm)"},
            "y": {"field": "v", "type": "quantitative", "title": "Normalised Absorbance"},
            "shape": {"field": "dir", "type": "nominal", "scale": {"domain": ["left", "right"], "range": ["triangle-left", "triangle-right"]}, "legend": null}
          }
        },
        {
          "data": {"name": "pl"},
          "transform": [{"filter": "datum.panel === 'B'"}],
          "mark": {"type": "text", "angle": 270, "align": "center", "baseline": "middle", "fontSize": 32},
          "encoding": {
            "x": {"field": "wl", "type": "quantitative", "title": "Wavelength (nm)"},
            "y": {"field": "v", "type": "quantitative", "title": "Normalised Absorbance"},
            "text": {"field": "text"}
          }
        }
      ]
    }
  ]
}
